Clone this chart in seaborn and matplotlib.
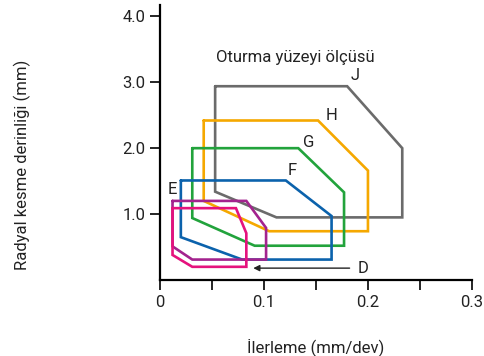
import matplotlib
matplotlib.use("Agg")
import matplotlib.pyplot as plt
import seaborn as sns

# polygon outlines (feed mm/rev, radial depth mm)
j_x = [0.053, 0.180, 0.233, 0.233, 0.112, 0.053]
j_y = [2.94, 2.94, 2.00, 0.95, 0.95, 1.34]
h_x = [0.042, 0.152, 0.200, 0.200, 0.105, 0.042]
h_y = [2.42, 2.42, 1.66, 0.74, 0.74, 1.20]
g_x = [0.031, 0.133, 0.177, 0.177, 0.091, 0.031]
g_y = [2.00, 2.00, 1.33, 0.52, 0.52, 0.94]
f_x = [0.020, 0.121, 0.165, 0.165, 0.079, 0.020]
f_y = [1.51, 1.51, 0.97, 0.31, 0.31, 0.65]
e_x = [0.012, 0.083, 0.102, 0.102, 0.031, 0.012]
e_y = [1.20, 1.20, 0.79, 0.31, 0.31, 0.51]
d_x = [0.012, 0.073, 0.083, 0.083, 0.031, 0.012]
d_y = [1.09, 1.09, 0.71, 0.20, 0.20, 0.38]

shapes = [
    ("J", j_x, j_y, "#6b6b6b"),
    ("H", h_x, h_y, "#f5a800"),
    ("G", g_x, g_y, "#22a33c"),
    ("F", f_x, f_y, "#0b62ac"),
    ("E", e_x, e_y, "#a3238e"),
    ("D", d_x, d_y, "#e5127d"),
]

# label positions
label_pos = {"J": (0.188, 3.10), "H": (0.165, 2.50), "G": (0.143, 2.08),
             "F": (0.127, 1.66), "E": (0.012, 1.37)}
d_label = (0.190, 0.18)
d_arrow_tip = (0.087, 0.18)

sns.set_style("white")
plt.rcParams["font.family"] = ["Roboto", "DejaVu Sans"]
fs = 12

fig = plt.figure(figsize=(4.85, 3.56), dpi=100)
ax = fig.add_axes([0.33, 0.2135, 0.643, 0.772])

for name, xs, ys, col in shapes:
    sns.lineplot(x=xs + xs[:1], y=ys + ys[:1], sort=False, estimator=None,
                 color=col, lw=1.9, ax=ax)
for line in ax.lines:
    line.set_solid_joinstyle("miter")

for name, (lx, ly) in label_pos.items():
    ax.text(lx, ly, name, fontsize=fs, ha="center", va="center", color="#222222")

ax.annotate("", xy=d_arrow_tip, xytext=(d_label[0] - 0.005, d_label[1]),
            arrowprops=dict(arrowstyle="-|>", color="#222222", lw=1.0,
                            mutation_scale=9))
ax.text(d_label[0], d_label[1], "D", fontsize=fs, ha="left", va="center",
        color="#222222")

ax.text(0.13, 3.38, "Oturma yüzeyi ölçüsü", fontsize=fs, ha="center",
        va="center", color="#222222")

ax.set_xlim(0, 0.3)
ax.set_ylim(0, 4.17)
ax.set_xticks([0, 0.1, 0.2, 0.3])
ax.set_xticklabels(["0", "0.1", "0.2", "0.3"])
ax.set_xticks([0.05, 0.15, 0.25], minor=True)
ax.set_yticks([1, 2, 3, 4])
ax.set_yticklabels(["1.0", "2.0", "3.0", "4.0"])
ax.tick_params(axis="both", which="both", direction="out", length=7,
               width=1.2, color="black", labelsize=fs, labelcolor="#222222",
               bottom=True, left=True)
ax.tick_params(axis="x", pad=4)

for side in ["top", "right"]:
    ax.spines[side].set_visible(False)
for side in ["left", "bottom"]:
    ax.spines[side].set_color("black")
    ax.spines[side].set_linewidth(1.6)

ax.set_xlabel("İlerleme (mm/dev)", fontsize=fs, color="#222222")
ax.set_ylabel("Radyal kesme derinliği (mm)", fontsize=fs, color="#222222")
ax.xaxis.set_label_coords(0.5, -0.21)
ax.yaxis.set_label_coords(-0.415, 0.418)

fig.savefig("out.png", dpi=100)
